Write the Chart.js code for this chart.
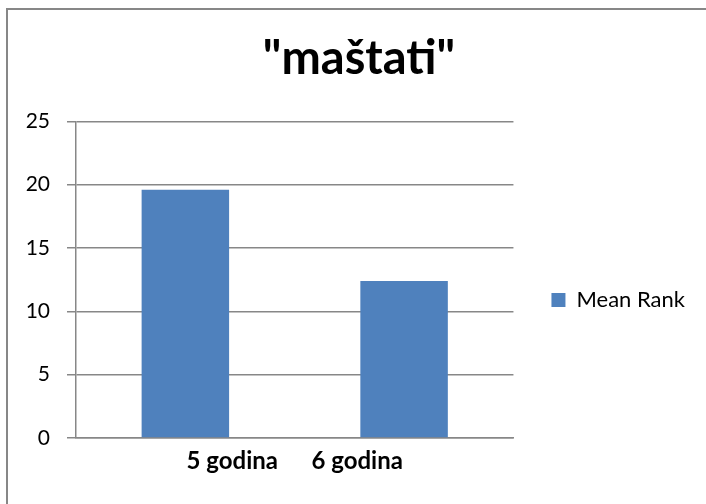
<!DOCTYPE html>
<html>
<head>
<meta charset="utf-8">
<script src="https://cdn.jsdelivr.net/npm/chart.js@4.4.0/dist/chart.umd.min.js"></script>
<style>
html, body { margin: 0; padding: 0; background: #fff; overflow: hidden; width: 706px; height: 504px; }
#okvir { position: absolute; left: 6px; top: 8px; width: 702px; height: 580px; border: 2px solid #878787; }
</style>
</head>
<body>
<div id="okvir"><canvas id="grafikon"></canvas></div>
<script>
const kategorije = ['5 godina', '6 godina'];
const meanRank = [19.6, 12.4];
const oznakeY = [0, 5, 10, 15, 20, 25];
const naslov = '"maštati"';
const nazivSerije = 'Mean Rank';

const siva = '#878787';
const plava = '#4F81BD';

// legend padding + an empty right axis keep the gap between plot and legend
const razmak = 25;
const prazno = 13;

// excel squeezes the category labels toward the middle
const primakniOznake = {
  id: 'primakniOznake',
  beforeDraw(chart) {
    const x = chart.scales.x;
    const sredina = (x.left + x.right) / 2;
    x.getLabelItems().forEach(it => {
      const t = it.options.translation;
      if (it._izvorno === undefined) it._izvorno = t[0];
      t[0] = sredina + (it._izvorno - sredina) * 0.571;
    });
  }
};

Chart.defaults.color = '#000';
Chart.defaults.font.family = 'Lato, Carlito, sans-serif';

const ctx = document.getElementById('grafikon');

new Chart(ctx, {
  type: 'bar',
  data: {
    labels: kategorije,
    datasets: [{
      label: nazivSerije,
      data: meanRank,
      backgroundColor: plava,
      borderWidth: 0,
      barPercentage: 0.4,
      categoryPercentage: 1
    }]
  },
  options: {
    responsive: true,
    maintainAspectRatio: false,
    animation: false,
    layout: { padding: { left: 15, right: 15, top: 0, bottom: 0 } },
    plugins: {
      title: {
        display: true,
        text: naslov,
        font: { size: 47, weight: 'bold' },
        padding: { top: 21, bottom: 34 }
      },
      legend: {
        position: 'right',
        maxWidth: 400,
        labels: {
          boxWidth: 14,
          boxHeight: 14,
          padding: razmak,
          font: { size: 22 }
        }
      },
      tooltip: { enabled: false }
    },
    scales: {
      x: {
        grid: { display: false },
        border: { display: true, color: siva, width: 1.5 },
        ticks: { padding: 1, font: { size: 24, weight: 'bold' } },
        afterFit(scale) { scale.height = 152; }
      },
      y: {
        min: 0,
        max: 25,
        afterBuildTicks(scale) { scale.ticks = oznakeY.map(v => ({ value: v })); },
        grid: { color: siva, lineWidth: 1.5, tickLength: 9, tickColor: siva },
        border: { display: true, color: siva, width: 1.5 },
        ticks: { padding: 17, font: { size: 21 } },
        afterFit(scale) { scale.width = 53; }
      },
      y2: {
        position: 'right',
        grid: { display: false },
        border: { display: false },
        ticks: { display: false },
        afterFit(scale) { scale.width = prazno; }
      }
    }
  },
  plugins: [primakniOznake]
});
</script>
</body>
</html>
